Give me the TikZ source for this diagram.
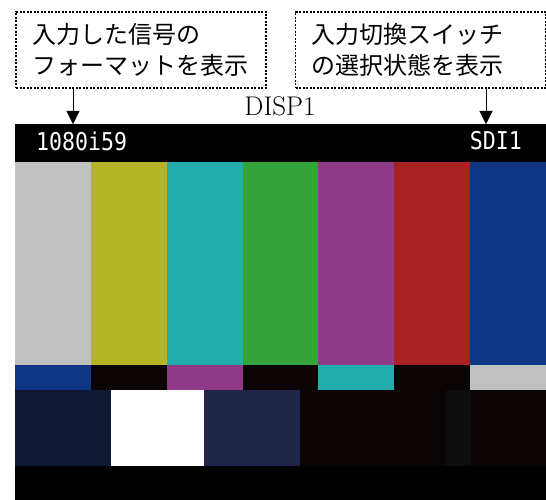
\documentclass[tikz,border=0pt]{standalone}
\usepackage{fontspec}
\usepackage{tikz}
\usetikzlibrary{positioning,arrows.meta}
\newfontfamily\jpfont{Noto Sans CJK JP}
\newfontfamily\osdfont[FakeStretch=0.88]{DejaVu Sans Mono}

\definecolor{barGray}{RGB}{192,192,192}
\definecolor{barYellow}{RGB}{180,180,38}
\definecolor{barCyan}{RGB}{35,172,172}
\definecolor{barGreen}{RGB}{52,163,58}
\definecolor{barMagenta}{RGB}{142,58,134}
\definecolor{barRed}{RGB}{168,34,36}
\definecolor{barBlue}{RGB}{14,54,132}
\definecolor{barBlack}{RGB}{10,4,4}
\definecolor{plugeNavy}{RGB}{16,26,52}
\definecolor{plugeBlue}{RGB}{32,36,72}
\definecolor{plugeGray}{RGB}{14,13,13}

\begin{document}
\begin{tikzpicture}[x=1pt, y=-1pt]
        \tikzstyle{note}=[draw, dash pattern=on 2pt off 1.5pt, line width=1.1pt, minimum width=250pt, minimum height=76pt, text width=218pt, inner sep=0pt, align=left, font=\jpfont\fontsize{24}{31}\selectfont]
        \tikzstyle{osd}=[text=white, inner sep=0pt, font=\osdfont\fontsize{24.5}{24.5}\selectfont]

        \useasboundingbox (0,0) rectangle (546,500);

        % screen
        \fill[black] (15,124) rectangle (546,500);
        \foreach \c [count=\i from 0] in {barGray,barYellow,barCyan,barGreen,barMagenta,barRed,barBlue}
            \fill[\c] ({15+\i*75.86},162) rectangle ({15+(\i+1)*75.86},365);
        \foreach \c [count=\i from 0] in {barBlue,barBlack,barMagenta,barBlack,barCyan,barBlack,barGray}
            \fill[\c] ({15+\i*75.86},365) rectangle ({15+(\i+1)*75.86},390);
        \fill[plugeNavy] (15,390) rectangle (110.7,466);
        \fill[white] (110.7,390) rectangle (204,466);
        \fill[plugeBlue] (204,390) rectangle (299.5,466);
        \fill[barBlack] (299.5,390) rectangle (546,466);
        \fill[plugeGray] (446,390) rectangle (471,466);

        \node[note] (fmtnote) at (141,50) {入力した信号の\\フォーマットを表示};
        \node[note] (srcnote) at (420.5,50) {入力切換スイッチ\\の選択状態を表示};
        \node[font=\fontsize{27}{27}\selectfont] (title) at (280,106) {DISP1};
        \node[osd, anchor=west] (fmt) at (36,141) {1080i59};
        \node[osd, anchor=east] (src) at (522,141) {SDI1};

        \coordinate (fmttip) at (73,124);
        \coordinate (srctip) at (486,124);
        \draw[-{Triangle[length=13pt,width=13pt]}] (fmtnote.south -| fmttip) -- (fmttip);
        \draw[-{Triangle[length=13pt,width=13pt]}] (srcnote.south -| srctip) -- (srctip);
\end{tikzpicture}
\end{document}
